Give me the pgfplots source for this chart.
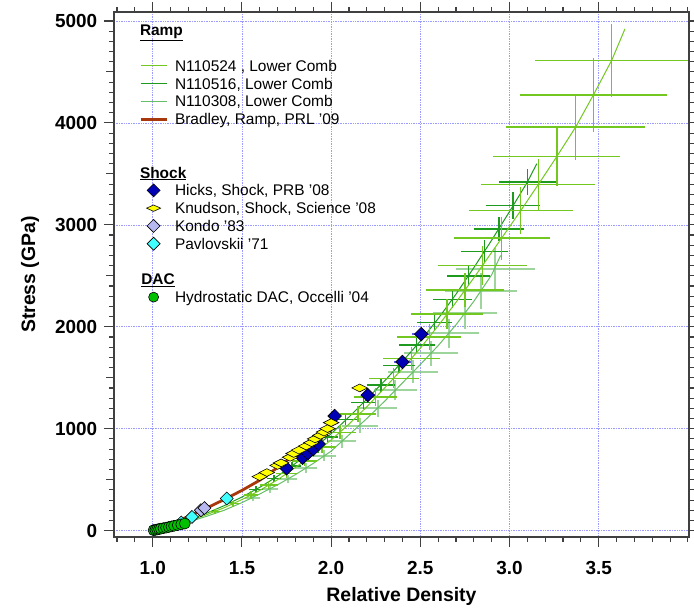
\documentclass[border=0pt]{standalone}
\usepackage{fontspec}
\setmainfont{Liberation Sans}
\usepackage{pgfplots}
\pgfplotsset{compat=1.18}

\definecolor{cA}{HTML}{72C81E}
\definecolor{cB}{HTML}{1E9A1E}
\definecolor{cC}{HTML}{66BE66}
\definecolor{cBr}{HTML}{A8380C}
\definecolor{cHi}{HTML}{0000B4}
\definecolor{cHiE}{HTML}{6060F0}
\definecolor{cKn}{HTML}{FFFF00}
\definecolor{cKo}{HTML}{B8B8F0}
\definecolor{cPa}{HTML}{40FFFF}
\definecolor{cDac}{HTML}{00C000}
\definecolor{cGrid}{HTML}{9C9CFF}

\pgfplotsset{
 legline/.style={legend image code/.code={\draw[##1] (0bp,0bp) -- (26bp,0bp);}},
 legmark/.style={legend image code/.code={\draw[##1] plot coordinates {(13bp,0bp)};}},
 ebars/.style={draw=none, mark=none, forget plot,
   error bars/.cd, x dir=both, x explicit, y dir=both, y explicit, error mark=none,
   error bar style={draw=#1, line width=1.4bp}},
}
\newcommand\ls{\rule[-5.3bp]{0pt}{17.8bp}}

\begin{document}
\begin{tikzpicture}
\begin{axis}[
 scale only axis, width=575bp, height=525bp,
 xmin=0.783, xmax=4.006, ymin=-62, ymax=5088,
 xtick={1,1.5,2,2.5,3,3.5},
 minor xtick={0.8,0.9,...,3.95},
 ytick={0,1000,...,5000},
 minor ytick={0,100,...,5000},
 extra y ticks={500,1500,2500,3500,4500}, extra y tick labels={},
 extra y tick style={grid=none, major tick length=7.5bp},
 tick align=outside, tick pos=both, xticklabel pos=lower, yticklabel pos=left,
 major tick length=10bp, minor tick length=5bp,
 grid=major, major grid style={cGrid, line width=0.7bp, densely dotted},
 axis line style={line width=1.3bp, black!75},
 every tick/.style={black!75, line width=1.1bp},
 /pgf/number format/assume math mode=true,
 ticklabel style={font=\fontsize{19}{21}\selectfont\bfseries},
 xticklabel style={/pgf/number format/.cd, fixed, fixed zerofill, precision=1},
 yticklabel style={/pgf/number format/.cd, 1000 sep={}},
 xticklabel shift=11bp, yticklabel shift=3.2bp,
 xlabel={Relative Density}, ylabel={Stress (GPa)},
 label style={font=\fontsize{19.5}{22}\selectfont\bfseries},
 xlabel style={at={(axis description cs:0.5,-0.114)}, anchor=center},
 ylabel style={at={(axis description cs:-0.146,0.5)}, anchor=center},
 legend cell align=left,
 legend style={at={(rel axis cs:0.0435,0.979)}, anchor=north west, draw=none, fill=none,
   inner sep=0pt, row sep=3.8bp, column sep=7bp, nodes={inner sep=0pt, outer sep=0pt},
   font=\fontsize{15.5}{17}\selectfont},
]
% legend
\addlegendimage{empty legend}\addlegendentry{\ls\hspace*{-35bp}\textbf{\underline{Ramp}}}
\addlegendimage{empty legend}\addlegendentry{\ls}
\addlegendimage{legline, draw=cA, line width=1.3bp}\addlegendentry{\ls N110524 , Lower Comb}
\addlegendimage{legline, draw=cB, line width=1.3bp}\addlegendentry{\ls N110516, Lower Comb}
\addlegendimage{legline, draw=cC, line width=1.5bp}\addlegendentry{\ls N110308, Lower Comb}
\addlegendimage{legline, draw=cBr, line width=2.8bp}\addlegendentry{\ls Bradley, Ramp, PRL '09}
\addlegendimage{empty legend}\addlegendentry{\ls}
\addlegendimage{empty legend}\addlegendentry{\ls}
\addlegendimage{empty legend}\addlegendentry{\ls\hspace*{-35bp}\textbf{\underline{Shock}}}
\addlegendimage{legmark, only marks, mark=square*, mark size=4.6bp, mark options={rotate=45, fill=cHi, draw=black, line width=0.6bp}}\addlegendentry{\ls Hicks, Shock, PRB '08}
\addlegendimage{legmark, only marks, mark=square*, mark size=5bp, mark options={yscale=0.45, rotate=45, fill=cKn, draw=black, line width=0.6bp}}\addlegendentry{\ls Knudson, Shock, Science '08}
\addlegendimage{legmark, only marks, mark=square*, mark size=4.6bp, mark options={rotate=45, fill=cKo, draw=black, line width=0.6bp}}\addlegendentry{\ls Kondo '83}
\addlegendimage{legmark, only marks, mark=square*, mark size=4.6bp, mark options={rotate=45, fill=cPa, draw=black, line width=0.6bp}}\addlegendentry{\ls Pavlovskii '71}
\addlegendimage{empty legend}\addlegendentry{\ls}
\addlegendimage{empty legend}\addlegendentry{\ls\hspace*{-35bp}\textbf{\underline{DAC}}}
\addlegendimage{legmark, only marks, mark=*, mark size=5bp, mark options={fill=cDac, draw=black, line width=0.6bp}}\addlegendentry{\ls Hydrostatic DAC, Occelli '04}

% Hicks error bars
\addplot[ebars=cHiE] table[row sep=\\, x=x, y=y, x error=ex, y error=ey] {
x y ex ey \\ 2.205 1330 0.04 60 \\ 2.40 1655 0.05 60 \\ 2.505 1928 0.05 65 \\
};
% Hicks
\addplot[forget plot, only marks, mark=square*, mark size=4.8bp, mark options={rotate=45, fill=cHi, draw=black, line width=0.6bp}] coordinates {
(1.75,612)(1.84,715)(1.87,760)(1.90,800)(1.93,850)(2.02,1125)(2.205,1330)(2.40,1655)(2.505,1928)};
% Kondo
\addplot[forget plot, only marks, mark=square*, mark size=4.6bp, mark options={rotate=45, fill=cKo, draw=black, line width=0.6bp}] coordinates {
(1.27,200)(1.29,222)};
% Pavlovskii
\addplot[forget plot, only marks, mark=square*, mark size=4.6bp, mark options={rotate=45, fill=cPa, draw=black, line width=0.6bp}] coordinates {
(1.16,80)(1.22,135)(1.415,315)};
% Knudson
\addplot[forget plot, only marks, mark=square*, mark size=5.5bp, mark options={yscale=0.5, rotate=45, fill=cKn, draw=black, line width=0.6bp}] coordinates {
(1.60,530)(1.64,570)(1.70,640)(1.72,665)(1.77,720)(1.79,757)(1.82,790)(1.86,830)(1.89,863)(1.91,900)(1.94,935)(1.96,967)(1.98,1001)(2.00,1060)(2.16,1400)};

% N110308 (C)
\addplot[ebars=cC!80, error bar style={line width=2bp, opacity=0.8}] table[row sep=\\, x=x, y=y, x error=ex, y error=ey] {
x y ex ey \\
2.92 2570 0.22 200 \\ 2.84 2350 0.20 180 \\ 2.75 2135 0.18 160 \\ 2.66 1935 0.17 140 \\
2.56 1740 0.15 125 \\ 2.46 1560 0.14 110 \\ 2.36 1380 0.12 95 \\ 2.26 1200 0.11 85 \\
2.16 1030 0.10 75 \\ 2.06 876 0.08 65 \\ 1.96 735 0.07 55 \\ 1.86 615 0.06 50 \\
1.76 510 0.05 40 \\ 1.66 405 0.045 35 \\ 1.56 325 0.04 30 \\
};
\addplot[forget plot, cC, line width=1bp, mark=none] coordinates {
(1.0,0)(1.1,40)(1.2,85)(1.3,140)(1.4,200)(1.5,275)(1.6,360)(1.7,450)(1.8,550)(1.9,660)(2.0,780)(2.1,940)(2.2,1100)(2.3,1270)(2.4,1450)(2.5,1630)(2.6,1815)(2.7,2020)(2.8,2250)(2.9,2510)(2.95,2700)};

% N110516 (B)
\addplot[ebars=cB] table[row sep=\\, x=x, y=y, x error=ex, y error=ey] {
x y ex ey \\
3.10 3420 0.16 130 \\ 3.02 3190 0.15 130 \\ 2.94 2960 0.14 120 \\ 2.86 2740 0.13 110 \\
2.77 2500 0.12 100 \\ 2.68 2270 0.11 90 \\ 2.58 2040 0.10 85 \\ 2.48 1820 0.10 80 \\
2.38 1620 0.09 70 \\ 2.28 1430 0.08 65 \\ 2.18 1255 0.07 60 \\ 2.08 1090 0.07 55 \\
1.98 920 0.06 50 \\ 1.88 770 0.05 45 \\ 1.78 635 0.05 40 \\ 1.68 512 0.04 35 \\ 1.58 405 0.04 30 \\
};
\addplot[forget plot, cB, line width=1bp, mark=none] coordinates {
(1.0,0)(1.1,50)(1.2,105)(1.3,170)(1.4,245)(1.5,330)(1.6,425)(1.7,535)(1.8,660)(1.9,800)(2.0,950)(2.1,1115)(2.2,1290)(2.3,1470)(2.4,1660)(2.5,1860)(2.6,2080)(2.7,2320)(2.8,2580)(2.9,2850)(3.0,3130)(3.1,3420)(3.153,3600)};

% N110524 (A)
\addplot[ebars=cA] table[row sep=\\, x=x, y=y, x error=ex, y error=ey] {
x y ex ey \\
3.573 4615 0.43 360 \\ 3.470 4274 0.41 360 \\ 3.371 3960 0.39 320 \\ 3.265 3670 0.355 290 \\
3.161 3395 0.32 250 \\ 3.063 3140 0.29 230 \\ 2.956 2870 0.27 210 \\ 2.85 2600 0.25 190 \\
2.75 2360 0.22 170 \\ 2.65 2125 0.20 150 \\ 2.55 1900 0.18 130 \\ 2.45 1690 0.16 115 \\
2.35 1495 0.14 100 \\ 2.25 1310 0.12 90 \\ 2.15 1145 0.10 80 \\ 2.05 965 0.09 70 \\
1.95 820 0.08 60 \\ 1.85 685 0.07 50 \\ 1.75 560 0.06 45 \\ 1.65 447 0.05 40 \\
1.55 350 0.04 35 \\ 1.45 265 0.035 30 \\ 1.35 190 0.03 25 \\
};
\addplot[forget plot, cA, line width=1bp, mark=none] coordinates {
(1.0,0)(1.1,45)(1.2,95)(1.3,155)(1.4,225)(1.5,305)(1.6,395)(1.7,500)(1.8,620)(1.9,750)(2.0,890)(2.1,1045)(2.2,1215)(2.3,1400)(2.4,1590)(2.5,1790)(2.6,2010)(2.7,2240)(2.8,2480)(2.9,2730)(2.956,2870)(3.063,3140)(3.161,3395)(3.265,3670)(3.371,3960)(3.470,4274)(3.573,4615)(3.647,4922)};

% Bradley
\addplot[forget plot, cBr, line width=2.8bp, mark=none] coordinates {
(1.0,0)(1.1,65)(1.2,140)(1.3,220)(1.4,305)(1.5,395)(1.6,495)(1.7,620)(1.811,764)};
% DAC
\addplot[forget plot, only marks, mark=*, mark size=5.5bp, mark options={fill=cDac, draw=black, line width=0.6bp}] coordinates {
(1.005,5)(1.015,8)(1.025,12)(1.035,16)(1.045,20)(1.06,25)(1.075,30)(1.09,36)(1.105,42)(1.12,48)(1.14,55)(1.16,62)(1.18,70)};

\coordinate (bbsw) at (rel axis cs:0,0);
\coordinate (bbne) at (rel axis cs:1,1);
\end{axis}
\pgfresetboundingbox
\path ([shift={(-114bp,-73bp)}]bbsw) rectangle ([shift={(5bp,12bp)}]bbne);
\end{tikzpicture}
\end{document}
